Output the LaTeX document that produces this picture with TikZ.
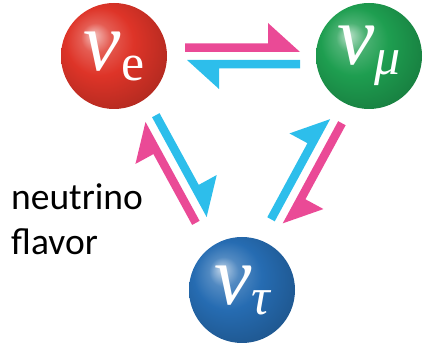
\documentclass[tikz,border=0pt]{standalone}
\usepackage{fontspec}
\setmainfont{Carlito}
\newfontfamily\nufont{Liberation Serif}
\usetikzlibrary{calc}
\definecolor{ballred}{RGB}{222,52,40}
\definecolor{ballgreen}{RGB}{30,158,80}
\definecolor{ballblue}{RGB}{38,108,178}
\definecolor{arrpink}{RGB}{234,74,150}
\definecolor{arrcyan}{RGB}{45,190,235}
\pgfdeclareradialshading{redball}{\pgfpoint{-10bp}{10bp}}{color(0bp)=(ballred!30!white); color(7bp)=(ballred!80!white); color(16bp)=(ballred); color(30bp)=(ballred!82!black); color(50bp)=(ballred!65!black)}
\pgfdeclareradialshading{greenball}{\pgfpoint{-10bp}{10bp}}{color(0bp)=(ballgreen!30!white); color(7bp)=(ballgreen!80!white); color(16bp)=(ballgreen); color(30bp)=(ballgreen!82!black); color(50bp)=(ballgreen!65!black)}
\pgfdeclareradialshading{blueball}{\pgfpoint{-10bp}{10bp}}{color(0bp)=(ballblue!30!white); color(7bp)=(ballblue!80!white); color(16bp)=(ballblue); color(30bp)=(ballblue!82!black); color(50bp)=(ballblue!65!black)}
\newcommand\nusym[1]{{\nufont\fontsize{84}{84}\selectfont\itshape ν}\raisebox{-10pt}{\nufont\fontsize{52}{52}\selectfont #1}}
\newcommand\harp[5]{%
  \fill[#1] let \p1=(#2), \p2=(#3), \n1={atan2(\y2-\y1,\x2-\x1)} in
    ($(\p1)+(\n1:#4)+({\n1+90}:4)$) -- ($(\p2)+({\n1+180}:#5)+({\n1+90}:4)$)
    -- ($(\p2)+({\n1+180}:#5+32)+({\n1+90}:33)$) -- ($(\p2)+({\n1+180}:#5+32)+({\n1+90}:12.5)$)
    -- ($(\p1)+(\n1:#4)+({\n1+90}:12.5)$) -- cycle;}
\begin{document}
\begin{tikzpicture}[x=1pt,y=1pt,
  ball/.style={circle, minimum size=106pt, inner sep=0pt, text=white},
  flavorlabel/.style={align=left, inner sep=0pt, font=\fontsize{37.5}{45}\selectfont}]
\useasboundingbox (0,0) rectangle (426,344);
\node[ball, shading=redball] (e) at (114,288) {\nusym{e}};
\node[ball, shading=greenball] (mu) at (369,288) {\nusym{\itshape μ}};
\node[ball, shading=blueball] (tau) at (242,54) {\nusym{\itshape τ}};
\harp{arrpink}{e}{mu}{71}{69}
\harp{arrcyan}{mu}{e}{69}{73}
\harp{arrpink}{tau}{e}{81}{73}
\harp{arrcyan}{e}{tau}{72}{81}
\harp{arrcyan}{tau}{mu}{76}{74}
\harp{arrpink}{mu}{tau}{72}{78}
\node[flavorlabel, anchor=base west] (flavor) at (11,89) {neutrino\\flavor};
\end{tikzpicture}
\end{document}
